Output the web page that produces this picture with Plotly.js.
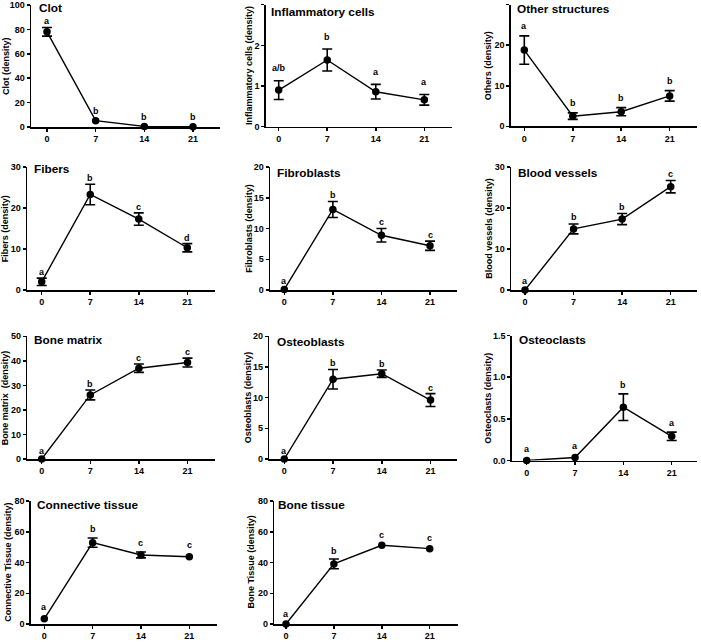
<!DOCTYPE html>
<html>
<head>
<meta charset="utf-8">
<script src="https://cdn.plot.ly/plotly-3.0.1.min.js"></script>
<style>html,body{margin:0;padding:0;background:#fff;}#chart{width:701px;height:642px;}</style>
</head>
<body>
<div id="chart"></div>
<script>
// ---------- DATA ----------
const days = [0, 7, 14, 21];
const xTickLabels = ["0", "7", "14", "21"];

const panelTitles = ["Clot", "Inflammatory cells", "Other structures",
  "Fibers", "Fibroblasts", "Blood vessels",
  "Bone matrix", "Osteoblasts", "Osteoclasts",
  "Connective tissue", "Bone tissue"];
const yTitles = ["Clot (density)", "Inflammatory cells (density)", "Others (density)",
  "Fibers (density)", "Fibroblasts (density)", "Blood vessels (density)",
  "Bone matrix  (density)", "Osteoblasts (density)", "Osteoclasts (density)",
  "Connective Tissue (density)", "Bone Tissue (density)"];

const clot = [78, 5.2, 0.5, 0.2];
const clotErr = [3.5, null, null, null];
const clotLetters = ["a", "b", "b", "b"];

const inflammatory = [0.90, 1.64, 0.86, 0.66];
const inflammatoryErr = [0.23, 0.27, 0.18, 0.13];
const inflammatoryLetters = ["a/b", "b", "a", "a"];

const others = [18.8, 2.5, 3.6, 7.5];
const othersErr = [3.5, 0.8, 1.0, 1.3];
const othersLetters = ["a", "b", "b", "b"];

const fibers = [2.0, 23.3, 17.3, 10.3];
const fibersErr = [0.9, 2.5, 1.5, 1.0];
const fibersLetters = ["a", "b", "c", "d"];

const fibroblasts = [0.1, 13.1, 8.9, 7.2];
const fibroblastsErr = [null, 1.3, 1.1, 0.75];
const fibroblastsLetters = ["a", "b", "c", "c"];

const bloodVessels = [0, 14.9, 17.3, 25.2];
const bloodVesselsErr = [null, 1.2, 1.35, 1.5];
const bloodVesselsLetters = ["a", "b", "b", "c"];

const boneMatrix = [0, 26.1, 37.0, 39.3];
const boneMatrixErr = [null, 2.0, 1.7, 1.8];
const boneMatrixLetters = ["a", "b", "c", "c"];

const osteoblasts = [0, 13.0, 13.9, 9.6];
const osteoblastsErr = [null, 1.6, 0.6, 1.05];
const osteoblastsLetters = ["a", "b", "b", "c"];

const osteoclasts = [0, 0.036, 0.64, 0.29];
const osteoclastsErr = [null, null, 0.16, 0.05];
const osteoclastsLetters = ["a", "a", "b", "a"];

const connective = [3.4, 52.9, 44.9, 43.7];
const connectiveErr = [null, 3.0, 1.9, null];
const connectiveLetters = ["a", "b", "c", "c"];

const boneTissue = [0, 39.1, 51.2, 49.0];
const boneTissueErr = [null, 3.2, null, null];
const boneTissueLetters = ["a", "b", "c", "c"];

const yMax = [100, 3, 30, 30, 20, 30, 50, 20, 1.5, 80, 80];
const yStep = [20, 1, 10, 10, 5, 10, 10, 5, 0.5, 20, 20];

const seriesValues = [clot, inflammatory, others, fibers, fibroblasts, bloodVessels,
  boneMatrix, osteoblasts, osteoclasts, connective, boneTissue];
const seriesErrors = [clotErr, inflammatoryErr, othersErr, fibersErr, fibroblastsErr, bloodVesselsErr,
  boneMatrixErr, osteoblastsErr, osteoclastsErr, connectiveErr, boneTissueErr];
const seriesLetters = [clotLetters, inflammatoryLetters, othersLetters, fibersLetters, fibroblastsLetters,
  bloodVesselsLetters, boneMatrixLetters, osteoblastsLetters, osteoclastsLetters, connectiveLetters, boneTissueLetters];

// ---------- LAYOUT GEOMETRY (pixels) ----------
// [left, right, top, bottom, tick0px, tick21px, yTitleX, titleDx, titleY, letterGap]
const geom = [
  [31, 220, 5, 127, 47, 193, 6, 7, 8.5, 7],
  [265.7, 452, 4.7, 126.7, 278.7, 424.3, 248.3, 4.3, 12.3, 12.5],
  [510.7, 697, 4.7, 126.3, 524.3, 669.7, 487.7, 5, 8.7, 9.5],
  [27, 215, 167, 290, 41.7, 187.3, 4.7, 6, 169.2, 6],
  [270, 456.7, 167, 290, 284.3, 430, 248.3, 5.7, 172.7, 6],
  [511, 696.7, 167, 290, 525, 670.7, 488.3, 5.7, 172.5, 6.5],
  [27.3, 215, 336.3, 459, 41.7, 187.5, 4.7, 6, 340.2, 6],
  [269.3, 456.7, 336.3, 459, 284.3, 430.5, 247.7, 6.4, 341.7, 6],
  [511.7, 697, 335.5, 460.5, 526.7, 671.7, 487.7, 6.6, 340, 9],
  [30.7, 216.7, 501, 624, 44.3, 189.3, 7.3, 5.3, 505, 9],
  [274.3, 457.7, 501, 624, 286, 429.7, 250, 3, 505, 8]
];
const noErrExtra = 2.5;

const W = 701, H = 642;
const FONT = '"Liberation Sans", Arial, Helvetica, sans-serif';

const traces = [];
const annotations = [];
const layout = {
  width: W, height: H, autosize: false,
  margin: {l: 0, r: 0, t: 0, b: 0, pad: 0},
  paper_bgcolor: '#fff', plot_bgcolor: 'rgba(0,0,0,0)',
  showlegend: false,
  font: {family: FONT, color: '#000', size: 9}
};

for (let i = 0; i < seriesValues.length; i++) {
  const [left, right, top, bottom, t0, t21, ytx, tdx, ty, gap] = geom[i];
  const n = i + 1;
  const xa = n === 1 ? 'x' : 'x' + n;
  const ya = n === 1 ? 'y' : 'y' + n;
  const s = (t21 - t0) / 21;
  const xr = [-(t0 - left) / s, 21 + (right - t21) / s];

  traces.push({
    type: 'scatter', mode: 'lines+markers',
    x: days, y: seriesValues[i], xaxis: xa, yaxis: ya,
    line: {color: '#000', width: 1.4},
    marker: {color: '#000', size: 7.5, symbol: 'circle'},
    error_y: {type: 'data', array: seriesErrors[i].map(e => e === null ? NaN : e),
      visible: true, color: '#000', thickness: 1.6, width: 5},
    cliponaxis: false, hoverinfo: 'skip'
  });

  const axX = {
    domain: [left / W, right / W], range: xr, anchor: ya,
    showline: true, linecolor: '#000', linewidth: 1.5,
    ticks: 'outside', ticklen: 3, tickwidth: 1.5, tickcolor: '#000',
    tickmode: 'array', tickvals: days, ticktext: xTickLabels,
    tickfont: {family: FONT, size: 9, weight: 'bold', color: '#000'},
    showgrid: false, zeroline: false, fixedrange: true
  };
  const axY = {
    domain: [1 - bottom / H, 1 - top / H], range: [0, yMax[i]], anchor: xa,
    showline: true, linecolor: '#000', linewidth: 1.5,
    ticks: 'outside', ticklen: 3, tickwidth: 1.5, tickcolor: '#000',
    tick0: 0, dtick: yStep[i], tickformat: yStep[i] < 1 ? '.1f' : '',
    tickfont: {family: FONT, size: 9, weight: 'bold', color: '#000'},
    showgrid: false, zeroline: false, fixedrange: true
  };
  layout[n === 1 ? 'xaxis' : 'xaxis' + n] = axX;
  layout[n === 1 ? 'yaxis' : 'yaxis' + n] = axY;

  // panel title
  annotations.push({
    text: panelTitles[i], xref: 'paper', yref: 'paper',
    x: (left + tdx) / W, y: 1 - ty / H, xanchor: 'left', yanchor: 'middle',
    showarrow: false, borderpad: 0,
    font: {family: FONT, size: 11.8, weight: 'bold', color: '#000'}
  });
  // y-axis title
  annotations.push({
    text: yTitles[i], xref: 'paper', yref: 'paper',
    x: ytx / W, y: 1 - ((top + bottom) / 2) / H, xanchor: 'center', yanchor: 'middle',
    textangle: -90, showarrow: false, borderpad: 0,
    font: {family: FONT, size: 9, weight: 'bold', color: '#000'}
  });
  // significance letters
  for (let j = 0; j < days.length; j++) {
    const eRaw = seriesErrors[i][j];
    const e = eRaw || 0;
    annotations.push({
      text: seriesLetters[i][j], xref: xa, yref: ya,
      x: days[j], y: seriesValues[i][j] + e, yshift: gap + (eRaw === null ? noErrExtra : 0),
      xanchor: 'center', yanchor: 'middle', showarrow: false, borderpad: 0,
      font: {family: FONT, size: 9, weight: 'bold', color: '#000'}
    });
  }
}
layout.annotations = annotations;

Plotly.newPlot('chart', traces, layout, {staticPlot: true, displayModeBar: false});
</script>
</body>
</html>
